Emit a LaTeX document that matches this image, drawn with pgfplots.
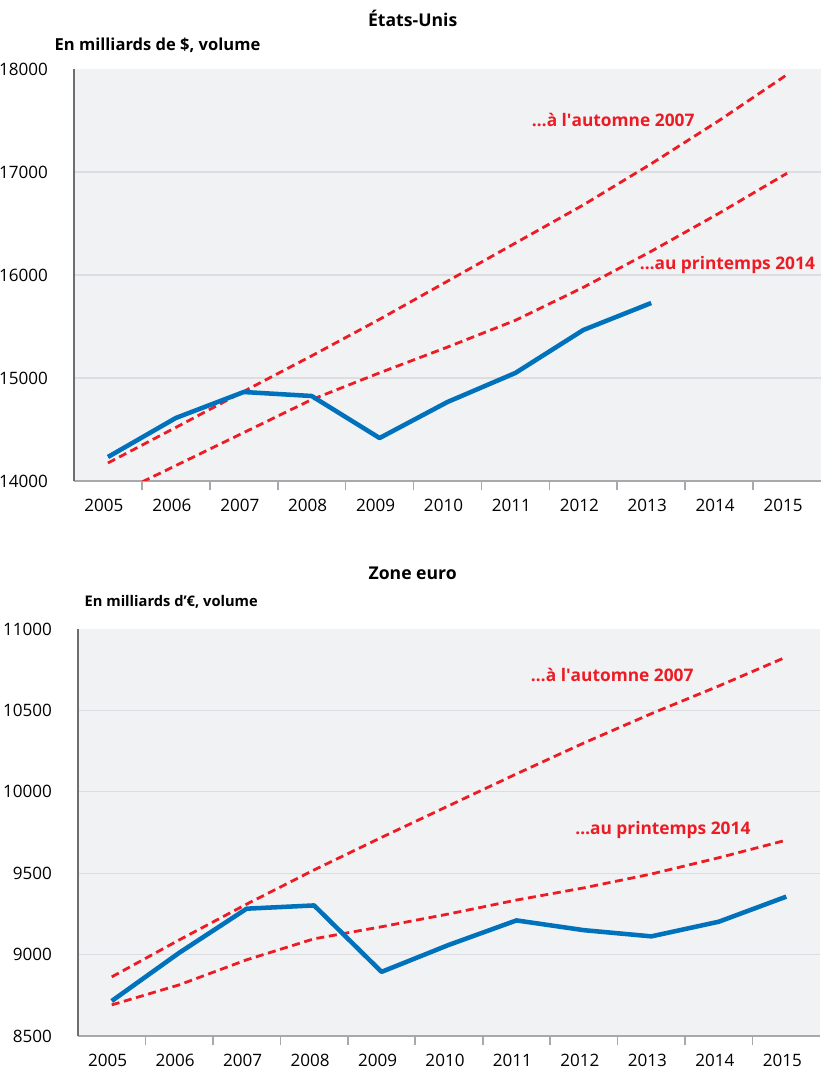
\documentclass[border=0pt]{standalone}
\usepackage{pgfplots}
\pgfplotsset{compat=1.18}
\usepackage{fontspec}
\setmainfont{Open Sans}

\definecolor{bleu}{HTML}{0072BC}
\definecolor{rouge}{HTML}{ED1C24}
\definecolor{fond}{HTML}{F1F2F4}
\definecolor{grille}{HTML}{DCDDE0}
\definecolor{axeg}{HTML}{6D6E71}
\definecolor{axeb}{HTML}{A7A9AC}

\pgfplotsset{
  eco/.style={
    scale only axis,
    xmin=-0.5, xmax=10.5,
    axis background/.style={fill=fond},
    axis x line=bottom, axis y line=left,
    x axis line style={draw=axeb, line width=1.2pt, -},
    y axis line style={draw=axeg, line width=1.2pt, -},
    xtick={0,...,10},
    xticklabels={2005,2006,2007,2008,2009,2010,2011,2012,2013,2014,2015},
    minor xtick={0.5,1.5,...,9.5},
    major tick length=0pt,
    minor tick length=7pt,
    tick align=outside,
    minor tick style={draw=axeb, line width=1.2pt},
    ymajorgrids, grid style={draw=grille, line width=0.8pt},
    extra y tick style={grid=none},
    scaled y ticks=false,
    tick label style={font=\fontsize{12.8}{15}\selectfont, text=black},
    xticklabel style={yshift=-10pt, xshift=-3pt},
    yticklabel style={xshift=-16pt},
    /pgf/number format/assume math mode=true,
    /pgf/number format/set thousands separator={},
  },
  obs/.style={draw=bleu, line width=3.4pt, line join=round, no marks},
  prev/.style={draw=rouge, line width=2.1pt, dash pattern=on 6pt off 3.5pt, no marks},
}
\tikzset{lab/.style={text=rouge, font=\bfseries\fontsize{13}{15}\selectfont}}

\begin{document}
\begin{tikzpicture}
\path[use as bounding box] (0,0) rectangle (617.25pt,805.5pt);

% titres
\node[font=\bfseries\fontsize{13.2}{16}\selectfont] at (309.5pt,792pt) {États-Unis};
\node[anchor=west, font=\bfseries\fontsize{12.4}{15}\selectfont] at (37.5pt,771.75pt) {En milliards de \$, volume};
\node[font=\bfseries\fontsize{13.2}{16}\selectfont] at (309.5pt,375.75pt) {Zone euro};
\node[anchor=west, font=\bfseries\fontsize{11}{13}\selectfont] at (60pt,354pt) {En milliards d'€, volume};

% Etats-Unis
\begin{axis}[eco, at={(55.5pt,444.75pt)}, anchor=south west,
  width=560.25pt, height=309pt,
  ymin=14000, ymax=18000,
  ytick={15000,16000,17000}, extra y ticks={14000,18000}]
\addplot[prev] coordinates {
  (0,14175) (1,14520) (2,14870) (3,15215) (4,15570) (5,15940)
  (6,16310) (7,16680) (8,17080) (9,17500) (10,17945)};
\addplot[prev] coordinates {
  (0,13830) (1,14150) (2,14470) (3,14790) (4,15050) (5,15300)
  (6,15560) (7,15880) (8,16230) (9,16600) (10,16988)};
\addplot[obs] coordinates {
  (0,14233) (1,14612) (2,14864) (3,14825) (4,14417) (5,14767)
  (6,15049) (7,15466) (8,15728)};
\node[lab] at (axis cs:7.44,17505) {…à l\textquotesingle automne 2007};
\node[lab, anchor=east] at (axis cs:10.48,16097) {…au printemps 2014};
\end{axis}

% Zone euro
\begin{axis}[eco, at={(58.5pt,28.5pt)}, anchor=south west,
  width=556.5pt, height=305.25pt,
  ymin=8500, ymax=11000,
  ytick={9000,9500,10000,10500}, extra y ticks={8500,11000}]
\addplot[prev] coordinates {
  (0,8863) (1,9090) (2,9310) (3,9520) (4,9720) (5,9915)
  (6,10110) (7,10300) (8,10480) (9,10650) (10,10828)};
\addplot[prev] coordinates {
  (0,8691) (1,8814) (2,8968) (3,9097) (4,9171) (5,9250)
  (6,9335) (7,9410) (8,9495) (9,9595) (10,9703)};
\addplot[obs] coordinates {
  (0,8715) (1,9011) (2,9282) (3,9302) (4,8894) (5,9060)
  (6,9210) (7,9150) (8,9112) (9,9202) (10,9356)};
\node[lab] at (axis cs:7.42,10717) {…à l\textquotesingle automne 2007};
\node[lab] at (axis cs:8.17,9765) {…au printemps 2014};
\end{axis}
\end{tikzpicture}
\end{document}
